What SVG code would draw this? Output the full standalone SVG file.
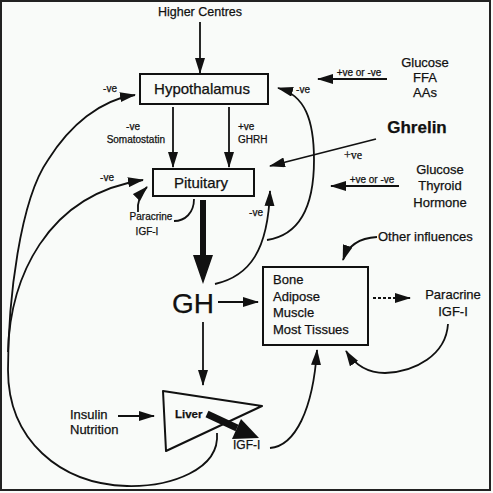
<svg xmlns="http://www.w3.org/2000/svg" width="493" height="493" viewBox="0 0 493 493">
<defs>
<style>
text{font-family:"Liberation Sans",Arial,sans-serif;fill:#111;stroke:#111;stroke-width:0.25}
.t13{font-size:13px}
.sm{font-size:10px}
.box{fill:none;stroke:#111;stroke-width:2}
.c{fill:none;stroke:#111;stroke-width:1.8}
.a{fill:none;stroke:#111;stroke-width:1.8;marker-end:url(#ah)}
</style>
<marker id="ah" markerUnits="userSpaceOnUse" markerWidth="16" markerHeight="10" refX="15" refY="5" orient="auto"><path d="M0,0 L16,5 L0,10 z" fill="#111"/></marker>
</defs>
<rect x="0" y="0" width="493" height="493" fill="#f9fbf9"/>
<rect x="1" y="1" width="489" height="489" fill="none" stroke="#222" stroke-width="2"/>

<g id="higher-centres"><text x="200" y="16" text-anchor="middle" font-size="12.5">Higher Centres</text></g>
<g id="hypothalamus"><rect class="box" x="140" y="74" width="128" height="30"/><text x="202" y="94" text-anchor="middle" font-size="15">Hypothalamus</text></g>
<g id="pituitary"><rect class="box" x="153" y="169" width="101" height="27"/><text x="201" y="188" text-anchor="middle" font-size="15">Pituitary</text></g>
<g id="gh"><text x="193" y="313" text-anchor="middle" font-size="28">GH</text></g>
<g id="tissues"><rect class="box" x="263" y="267" width="105" height="78"/>
<text class="t13" x="273" y="284">Bone</text><text class="t13" x="273" y="301">Adipose</text><text class="t13" x="273" y="317">Muscle</text><text class="t13" x="273" y="334">Most Tissues</text></g>
<g id="liver"><polygon points="163,391 262,406 166,451" fill="none" stroke="#111" stroke-width="2" stroke-linejoin="round"/><text x="175" y="418" font-size="11.5" font-weight="bold">Liver</text></g>
<g id="igf-liver"><text x="233" y="449" font-size="12">IGF-I</text></g>
<g id="paracrine-right"><text class="t13" x="453" y="299" text-anchor="middle">Paracrine</text><text class="t13" x="453" y="316" text-anchor="middle">IGF-I</text></g>
<g id="paracrine-left"><text x="151" y="220" text-anchor="middle" font-size="10">Paracrine</text><text x="147" y="235" text-anchor="middle" font-size="10">IGF-I</text></g>
<g id="glucose-ffa"><text class="t13" x="425" y="67" text-anchor="middle">Glucose</text><text class="t13" x="425" y="82" text-anchor="middle">FFA</text><text class="t13" x="425" y="97" text-anchor="middle">AAs</text></g>
<g id="ghrelin"><text x="417" y="133" text-anchor="middle" font-size="17" font-weight="bold">Ghrelin</text></g>
<g id="glucose-thyroid"><text class="t13" x="440" y="174" text-anchor="middle">Glucose</text><text class="t13" x="440" y="190" text-anchor="middle">Thyroid</text><text class="t13" x="440" y="207" text-anchor="middle">Hormone</text></g>
<g id="other-influences"><text class="t13" x="378" y="241">Other influences</text></g>
<g id="insulin-nutrition"><text class="t13" x="70" y="419">Insulin</text><text class="t13" x="70" y="434">Nutrition</text></g>

<g id="connectors">
<line class="a" x1="200" y1="22" x2="200" y2="73"/>
<line class="a" x1="173" y1="107" x2="173" y2="167"/>
<line class="a" x1="229" y1="107" x2="229" y2="167"/>
<text class="sm" x="133" y="130" text-anchor="middle">-ve</text>
<text class="sm" x="165" y="143" text-anchor="end">Somatostatin</text>
<text class="sm" x="238" y="130">+ve</text>
<text class="sm" x="238" y="143">GHRH</text>
<line class="a" x1="387" y1="79" x2="318" y2="79"/>
<text class="sm" x="359" y="76" text-anchor="middle">+ve or -ve</text>
<line class="a" x1="376" y1="139" x2="270" y2="166"/>
<text x="353" y="159" text-anchor="middle" font-size="12" style="font-family:'Liberation Serif',serif">+ve</text>
<line class="a" x1="399" y1="186" x2="331" y2="186"/>
<text class="sm" x="372" y="183" text-anchor="middle">+ve or -ve</text>
<path d="M200,200 L206,200 L206,255 L213,255 L203,284 L193,255 L200,255 Z" fill="#111"/>
<line class="a" x1="218" y1="302" x2="258" y2="302"/>
<line class="a" x1="203" y1="322" x2="203" y2="385"/>
<line class="a" x1="118" y1="416" x2="154" y2="416"/>
<line x1="373" y1="298" x2="410" y2="298" stroke="#111" stroke-width="1.8" stroke-dasharray="3,2" marker-end="url(#ah)"/>
<path d="M207,414 L237,428" stroke="#111" stroke-width="7" fill="none"/>
<polygon points="232,439 241,419 259,438" fill="#111"/>
<path class="a" d="M217,433 C220,470 170,487 127,486 C60,484 8,440 8,370 C8,300 20,200 48,160 C70,125 100,100 135,95"/>
<text class="sm" x="110" y="92" text-anchor="middle">-ve</text>
<path class="a" d="M8,352 C10,280 45,195 143,180"/>
<text class="sm" x="107" y="181" text-anchor="middle">-ve</text>
<path class="c" d="M194,199 C194,213 185,221 174,221"/>
<path class="a" d="M138,212 C137,202 140,194 147,187"/>
<path class="a" d="M215,284 C250,276 268,250 270,191"/>
<text class="sm" x="256" y="216" text-anchor="middle">-ve</text>
<path class="a" d="M267,240 C300,235 314,205 314,160 C314,120 305,95 278,88"/>
<text class="sm" x="303" y="93" text-anchor="middle">-ve</text>
<path class="a" d="M377,237 C360,238 348,245 343,260"/>
<path class="a" d="M448,324 C446,355 415,372 385,373 C368,373 355,365 346,351"/>
<path class="a" d="M270,448 C295,446 313,410 317,350"/>
</g>
</svg>
